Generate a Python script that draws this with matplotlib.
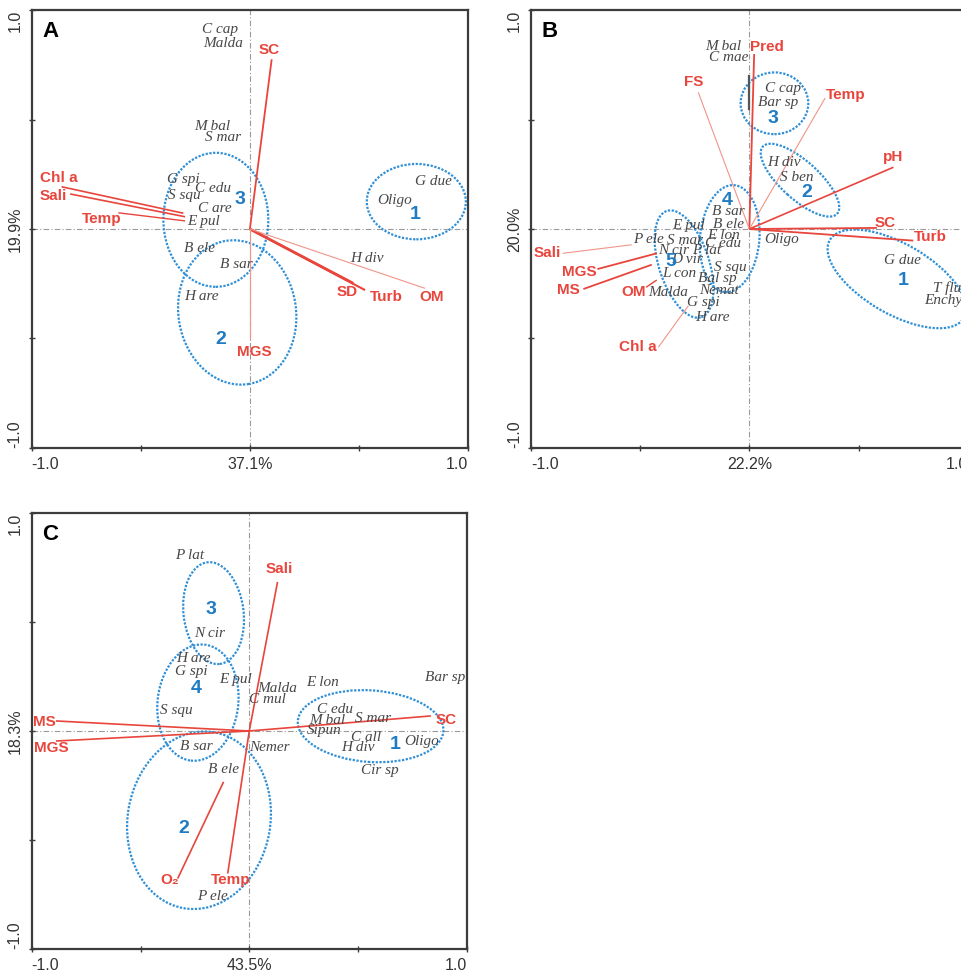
import matplotlib
matplotlib.use("Agg")
import matplotlib.pyplot as plt
from matplotlib.patches import Ellipse

RED = "#e8453c"
RED_LIGHT = "#f19489"
BLUE = "#2f8fd6"
BLUE_TXT = "#1f7bc2"
SPECIES_COL = "#474747"
AXIS_COL = "#3c3c3c"

# ---------------- Panel A : ordination scores ----------------
a_env = ["SC", "Chl a", "Sali", "Temp", "SD", "Turb", "OM", "MGS"]
a_env_x = [0.10, -0.863, -0.824, -0.603, 0.474, 0.528, 0.803, 0.0]
a_env_y = [0.775, 0.193, 0.160, 0.074, -0.248, -0.279, -0.271, -0.507]
a_tail_x = [0.0, -0.305, -0.297, -0.297, 0.0, 0.0, 0.0, 0.0]
a_tail_y = [0.0, 0.072, 0.056, 0.037, 0.0, 0.0, 0.0, 0.0]
a_lab_x = [0.088, -0.877, -0.90, -0.679, 0.447, 0.627, 0.834, 0.02]
a_lab_y = [0.817, 0.231, 0.151, 0.044, -0.286, -0.309, -0.312, -0.56]

a_species = ["C cap", "Malda", "M bal", "S mar", "G spi", "C edu", "S squ", "C are",
             "E pul", "B ele", "B sar", "H are", "G due", "Oligo", "H div"]
a_sp_x = [-0.137, -0.124, -0.172, -0.124, -0.305, -0.167, -0.302, -0.159,
          -0.213, -0.231, -0.060, -0.224, 0.841, 0.665, 0.536]
a_sp_y = [0.909, 0.848, 0.467, 0.417, 0.228, 0.183, 0.151, 0.094,
          0.033, -0.088, -0.164, -0.309, 0.216, 0.132, -0.134]

a_groups = ["1", "2", "3"]
a_grp_x = [0.757, -0.132, -0.045]
a_grp_y = [0.067, -0.504, 0.136]
a_ell_x = [0.763, -0.058, -0.156]
a_ell_y = [0.125, -0.381, 0.042]
a_ell_w = [0.454, 0.539, 0.481]
a_ell_h = [0.344, 0.662, 0.612]
a_ell_ang = [0, 9, 0]

# ---------------- Panel B ----------------
b_env = ["Pred", "FS", "Temp", "pH", "SC", "Turb", "Sali", "MGS", "MS", "OM", "Chl a"]
b_env_x = [0.022, -0.234, 0.347, 0.66, 0.584, 0.751, -0.855, -0.696, -0.76, -0.473, -0.417]
b_env_y = [0.799, 0.624, 0.598, 0.282, 0.005, -0.053, -0.111, -0.183, -0.274, -0.266, -0.540]
b_tail_x = [0.0, 0.0, 0.0, 0.0, 0.0, 0.0, -0.539, -0.424, -0.447, -0.424, -0.279]
b_tail_y = [0.0, 0.0, 0.0, 0.0, 0.0, 0.0, -0.072, -0.111, -0.163, -0.233, -0.350]
b_lab_x = [0.082, -0.257, 0.441, 0.66, 0.622, 0.831, -0.925, -0.78, -0.829, -0.531, -0.513]
b_lab_y = [0.83, 0.67, 0.612, 0.327, 0.026, -0.038, -0.111, -0.198, -0.279, -0.289, -0.537]

b_species = ["M bal", "C mae", "C cap", "Bar sp", "H div", "S ben", "B sar", "B ele",
             "E pul", "E lon", "P ele", "S mar", "C edu", "N cir", "P lat", "D vir",
             "S squ", "L con", "Bal sp", "Malda", "Nemat", "G spi", "H are", "Oligo",
             "G due", "T flu", "Enchy"]
b_sp_x = [-0.119, -0.096, 0.156, 0.13, 0.159, 0.217, -0.096, -0.096,
          -0.279, -0.119, -0.463, -0.295, -0.119, -0.348, -0.195, -0.287,
          -0.088, -0.321, -0.149, -0.371, -0.137, -0.211, -0.169, 0.148,
          0.703, 0.904, 0.889]
b_sp_y = [0.832, 0.784, 0.642, 0.578, 0.305, 0.236, 0.079, 0.02,
          0.015, -0.031, -0.046, -0.053, -0.068, -0.099, -0.099, -0.137,
          -0.175, -0.205, -0.228, -0.289, -0.282, -0.335, -0.403, -0.046,
          -0.142, -0.271, -0.327]

b_groups = ["1", "2", "3", "4", "5"]
b_grp_x = [0.703, 0.263, 0.11, -0.101, -0.359]
b_grp_y = [-0.236, 0.168, 0.505, 0.132, -0.149]
b_ell_x = [0.676, 0.232, 0.115, -0.09, -0.299]
b_ell_y = [-0.228, 0.223, 0.574, -0.044, -0.16]
b_ell_w = [0.71, 0.458, 0.31, 0.272, 0.23]
b_ell_h = [0.32, 0.174, 0.282, 0.49, 0.51]
b_ell_ang = [-30, -42, 0, -5, 18]

# ---------------- Panel C ----------------
c_env = ["Sali", "Temp", "O\u2082", "MS", "MGS", "SC"]
c_env_x = [0.13, -0.099, -0.329, -0.889, -0.889, 0.835]
c_env_y = [0.683, -0.653, -0.676, 0.046, -0.046, 0.069]
c_tail_x = [0.0, 0.0, -0.118, 0.0, 0.0, 0.0]
c_tail_y = [0.0, 0.0, -0.233, 0.0, 0.0, 0.0]
c_lab_x = [0.138, -0.087, -0.368, -0.942, -0.912, 0.904]
c_lab_y = [0.744, -0.684, -0.681, 0.041, -0.076, 0.052]

c_species = ["P lat", "N cir", "H are", "G spi", "E pul", "Malda", "C mul", "E lon",
             "Bar sp", "S squ", "C edu", "M bal", "S mar", "Sipun", "C all", "H div",
             "Oligo", "Cir sp", "B sar", "Nemer", "B ele", "P ele"]
c_sp_x = [-0.276, -0.184, -0.257, -0.268, -0.064, 0.127, 0.085, 0.337,
          0.901, -0.337, 0.395, 0.357, 0.567, 0.345, 0.537, 0.498,
          0.793, 0.598, -0.245, 0.092, -0.118, -0.168]
c_sp_y = [0.805, 0.446, 0.334, 0.273, 0.235, 0.194, 0.144, 0.22,
          0.243, 0.092, 0.099, 0.046, 0.057, 0.003, -0.03, -0.076,
          -0.046, -0.183, -0.073, -0.076, -0.177, -0.757]

c_groups = ["1", "2", "3", "4"]
c_grp_x = [0.671, -0.302, -0.176, -0.245]
c_grp_y = [-0.062, -0.447, 0.556, 0.194]
c_ell_x = [0.558, -0.231, -0.164, -0.236]
c_ell_y = [0.022, -0.409, 0.54, 0.13]
c_ell_w = [0.671, 0.656, 0.276, 0.371]
c_ell_h = [0.328, 0.818, 0.469, 0.535]
c_ell_ang = [-4, -10, 7, -7]

SANS = ["Liberation Sans", "DejaVu Sans"]
SERIF = ["Liberation Serif", "DejaVu Serif"]


def biplot(ax, letter, xlab, ylab, env, ex, ey, tx, ty, lx, ly, widths, light,
           species, sx, sy, groups, gx, gy, elx, ely, elw, elh, ela):
    ax.set_xlim(-1, 1)
    ax.set_ylim(-1, 1)
    ax.axhline(0, color="#9a9a9a", lw=0.8, ls=(0, (5, 2, 1, 2)), zorder=1)
    ax.axvline(0, color="#9a9a9a", lw=0.8, ls=(0, (5, 2, 1, 2)), zorder=1)

    for x, y, w, h, a in zip(elx, ely, elw, elh, ela):
        ax.add_patch(Ellipse((x, y), w, h, angle=a, fill=False, edgecolor=BLUE,
                             lw=1.6, ls=(0, (1, 0.7)), zorder=2))

    for i, name in enumerate(env):
        col = RED_LIGHT if light[i] else RED
        ax.plot([tx[i], ex[i]], [ty[i], ey[i]], color=col, lw=widths[i],
                solid_capstyle="butt", zorder=3)
        ax.text(lx[i], ly[i], name, color=RED, fontsize=11, fontweight="bold",
                family=SANS, ha="center", va="center", zorder=5)

    for name, x, y in zip(species, sx, sy):
        ax.text(x, y, name, color=SPECIES_COL, fontsize=11, style="italic",
                family=SERIF, ha="center", va="center", zorder=4)

    for name, x, y in zip(groups, gx, gy):
        ax.text(x, y, name, color=BLUE_TXT, fontsize=14, fontweight="bold",
                family=SANS, ha="center", va="center", zorder=5)

    ax.text(0.025, 0.975, letter, transform=ax.transAxes, fontsize=16,
            fontweight="bold", family=SANS, ha="left", va="top", color="black",
            zorder=6)

    for s in ax.spines.values():
        s.set_color(AXIS_COL)
        s.set_linewidth(1.6)
    ax.set_xticks([-1, -0.5, 0, 0.5, 1], ["-1.0", "", xlab, "", "1.0"])
    ax.set_yticks([-1, -0.5, 0, 0.5, 1], ["-1.0", "", ylab, "", "1.0"])
    ax.tick_params(direction="inout", length=5, width=1.0, color=AXIS_COL,
                   labelsize=11.5, labelcolor="#333333", pad=4)
    ax.tick_params(axis="y", labelrotation=90)
    xl = ax.get_xticklabels()
    xl[0].set_ha("left")
    xl[-1].set_ha("right")
    for t in ax.get_xticklabels() + ax.get_yticklabels():
        t.set_family(SANS)
    yl = ax.get_yticklabels()
    for t in yl:
        t.set_va("center")
    yl[0].set_va("bottom")
    yl[-1].set_va("top")


fig = plt.figure(figsize=(9.62, 9.72), dpi=100)
fig.patch.set_facecolor("white")

ax_a = fig.add_axes([0.033, 0.5391, 0.4535, 0.4506])
ax_b = fig.add_axes([0.552, 0.5391, 0.4539, 0.4506])
ax_c = fig.add_axes([0.033, 0.0234, 0.4522, 0.4491])

biplot(ax_a, "A", "37.1%", "19.9%", a_env, a_env_x, a_env_y, a_tail_x, a_tail_y,
       a_lab_x, a_lab_y, [1.3, 1.2, 1.2, 1.0, 2.0, 1.5, 0.8, 0.8],
       [False, False, False, False, False, False, True, True],
       a_species, a_sp_x, a_sp_y, a_groups, a_grp_x, a_grp_y,
       a_ell_x, a_ell_y, a_ell_w, a_ell_h, a_ell_ang)

biplot(ax_b, "B", "22.2%", "20.0%", b_env, b_env_x, b_env_y, b_tail_x, b_tail_y,
       b_lab_x, b_lab_y, [1.3, 0.8, 0.8, 1.2, 1.3, 1.3, 0.8, 1.3, 1.3, 1.0, 0.8],
       [False, True, True, False, False, False, True, False, False, False, True],
       b_species, b_sp_x, b_sp_y, b_groups, b_grp_x, b_grp_y,
       b_ell_x, b_ell_y, b_ell_w, b_ell_h, b_ell_ang)
# dark stub on the vertical axis line near the top species
ax_b.plot([0, 0], [0.548, 0.70], color="#555555", lw=1.6, zorder=3)

biplot(ax_c, "C", "43.5%", "18.3%", c_env, c_env_x, c_env_y, c_tail_x, c_tail_y,
       c_lab_x, c_lab_y, [1.2, 1.2, 1.2, 1.2, 1.2, 1.2],
       [False] * 6,
       c_species, c_sp_x, c_sp_y, c_groups, c_grp_x, c_grp_y,
       c_ell_x, c_ell_y, c_ell_w, c_ell_h, c_ell_ang)

fig.savefig("out.png", dpi=100)
